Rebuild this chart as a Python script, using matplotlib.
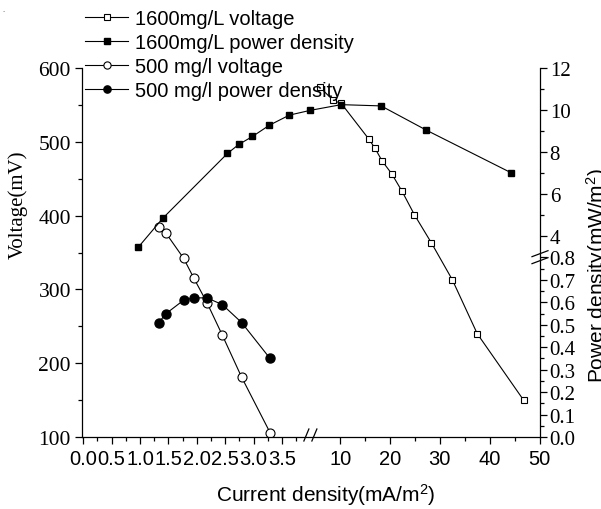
import numpy as np
import matplotlib
matplotlib.use("Agg")
import matplotlib.pyplot as plt
from matplotlib.lines import Line2D
from matplotlib.transforms import IdentityTransform
from matplotlib.ticker import FixedLocator, FuncFormatter

# data
x_1600_v = [5.9, 8.6, 10.2, 15.7, 17.0, 18.4, 20.3, 22.4, 24.9, 28.3, 32.5, 37.5, 46.8]
v_1600 = [574, 556, 552, 504, 491, 474, 457, 433, 401, 363, 313, 240, 150]
x_1600_p = [0.97, 1.40, 2.54, 2.74, 2.98, 3.28, 3.63, 4.02, 10.2, 18.2, 27.3, 44.2]
p_1600 = [3.44, 4.82, 7.92, 8.35, 8.73, 9.27, 9.75, 9.98, 10.25, 10.19, 9.03, 7.01]
x_500 = [1.33, 1.46, 1.77, 1.95, 2.18, 2.45, 2.79, 3.29]
v_500 = [385, 376, 342, 315, 282, 238, 181, 106]
p_500 = [0.51, 0.55, 0.61, 0.62, 0.62, 0.59, 0.51, 0.35]

labels = ["1600mg/L voltage", "1600mg/L power density",
          "500 mg/l voltage", "500 mg/l power density"]

x_major = [0.0, 0.5, 1.0, 1.5, 2.0, 2.5, 3.0, 3.5, 10, 20, 30, 40, 50]
x_minor = [0.25, 0.75, 1.25, 1.75, 2.25, 2.75, 3.25, 3.75, 15, 25, 35, 45]
yl_major = [100, 200, 300, 400, 500, 600]
yl_minor = [150, 250, 350, 450, 550]
yr_major = [0.0, 0.1, 0.2, 0.3, 0.4, 0.5, 0.6, 0.7, 0.8, 4, 6, 8, 10, 12]
yr_minor = [0.05, 0.15, 0.25, 0.35, 0.45, 0.55, 0.65, 0.75, 5, 7, 9, 11]

plt.rcParams["font.family"] = "Liberation Sans"
plt.rcParams["mathtext.fontset"] = "custom"
plt.rcParams["mathtext.rm"] = "Liberation Sans"
plt.rcParams["mathtext.it"] = "Liberation Sans:italic"


# broken x axis: 0-4 stretched, 4-50 compressed
def fx(x):
    x = np.asarray(x, float)
    return np.where(x <= 4.0, 56.8 * x, 227.2 + 4.98 * (x - 4.0))


def fx_inv(p):
    p = np.asarray(p, float)
    return np.where(p <= 227.2, p / 56.8, 4.0 + (p - 227.2) / 4.98)


# broken right axis: 0-0.8 then 4-12
def fy(y):
    y = np.asarray(y, float)
    return np.where(y <= 0.8, 225 * y,
                    np.where(y <= 3.0, 180 + (y - 0.8) / 2.2, 181 + 21 * (y - 3.0)))


def fy_inv(p):
    p = np.asarray(p, float)
    return np.where(p <= 180, p / 225,
                    np.where(p <= 181, 0.8 + (p - 180) * 2.2, 3.0 + (p - 181) / 21))


fig = plt.figure(figsize=(6.01, 5.10), dpi=100)
ax = fig.add_axes([82 / 601, 1 - 438 / 510, 458 / 601, 369 / 510])
ax.set_xscale("function", functions=(fx, fx_inv))
ax2 = ax.twinx()
ax2.set_yscale("function", functions=(fy, fy_inv))

lw = 0.8
h1, = ax.plot(x_1600_v, v_1600, "-s", color="black", lw=lw, ms=5, mfc="white", mec="black", mew=0.8)
h3, = ax.plot(x_500, v_500, "-o", color="black", lw=lw, ms=6.5, mfc="white", mec="black", mew=0.8)
h2, = ax2.plot(x_1600_p, p_1600, "-s", color="black", lw=lw, ms=5, mfc="black", mec="black")
h4, = ax2.plot(x_500, p_500, "-o", color="black", lw=lw, ms=6.5, mfc="black", mec="black")

ax.set_xlim(-0.02, 50.1)
ax.set_ylim(100, 600)
ax2.set_ylim(0, 12)

ax.xaxis.set_major_locator(FixedLocator(x_major))
ax.xaxis.set_minor_locator(FixedLocator(x_minor))
ax.xaxis.set_major_formatter(FuncFormatter(lambda v, pos: f"{v:.1f}" if v < 4 else f"{v:.0f}"))
ax.yaxis.set_major_locator(FixedLocator(yl_major))
ax.yaxis.set_minor_locator(FixedLocator(yl_minor))
ax.yaxis.set_major_formatter(FuncFormatter(lambda v, pos: f"{v:.0f}"))
ax2.yaxis.set_major_locator(FixedLocator(yr_major))
ax2.yaxis.set_minor_locator(FixedLocator(yr_minor))
ax2.yaxis.set_major_formatter(FuncFormatter(lambda v, pos: f"{v:.1f}" if v < 1 else f"{v:.0f}"))

for a in (ax, ax2):
    a.spines["top"].set_visible(False)
    for s in a.spines.values():
        s.set_linewidth(0.9)
ax.spines["right"].set_visible(False)
ax2.spines["left"].set_visible(False)
ax2.spines["bottom"].set_visible(False)

ax.tick_params(which="major", direction="out", length=5, width=0.9)
ax.tick_params(which="minor", direction="out", length=3, width=0.9)
ax2.tick_params(which="major", direction="out", length=5, width=0.9)
ax2.tick_params(which="minor", direction="out", length=3, width=0.9)
ax.tick_params(axis="x", labelsize=14.5, pad=4)
ax.tick_params(axis="y", labelsize=15.5, pad=3, labelfontfamily="Liberation Serif")
ax2.tick_params(axis="y", labelsize=15, pad=2, labelfontfamily="Liberation Serif")

fig.text(326 / 601, 1 - 495 / 510, "Current density(mA/m$^2$)", fontsize=15,
         ha="center", va="center")
fig.text(18 / 601, 1 - 205 / 510, "Voltage(mV)", fontsize=15, rotation=90,
         ha="center", va="center", family="Liberation Serif")
fig.text(584 / 601, 1 - 276 / 510, "Power density(mW/m$^2$)", fontsize=15, rotation=90,
         ha="left", va="center")
fig.text(0.004, 0.975, "-", fontsize=5, color="gray")

fig.legend([h1, h2, h3, h4], labels, loc="upper left",
           bbox_to_anchor=(85 / 601, 1 - 10 / 510), frameon=False, borderpad=0,
           borderaxespad=0, handlelength=2.15, handletextpad=0.35,
           labelspacing=0.25, fontsize=14.5, numpoints=1, markerscale=0.8)

# break marks
fig.canvas.draw()
bx, by = ax.transData.transform((4.0, 100))
for dx in (-4, 4):
    fig.add_artist(Line2D([bx + dx - 2.5, bx + dx + 2.5], [by - 4, by + 8],
                          transform=IdentityTransform(), color="black", lw=0.9))
rx, ry = ax2.transAxes.transform((1.0, 0.0))
_, ry = ax2.transData.transform((0, 1.5))
for dy in (-3.5, 3.5):
    fig.add_artist(Line2D([rx - 8, rx + 8], [ry + dy - 3, ry + dy + 3],
                          transform=IdentityTransform(), color="black", lw=0.9))

fig.savefig("out.png", dpi=100)
